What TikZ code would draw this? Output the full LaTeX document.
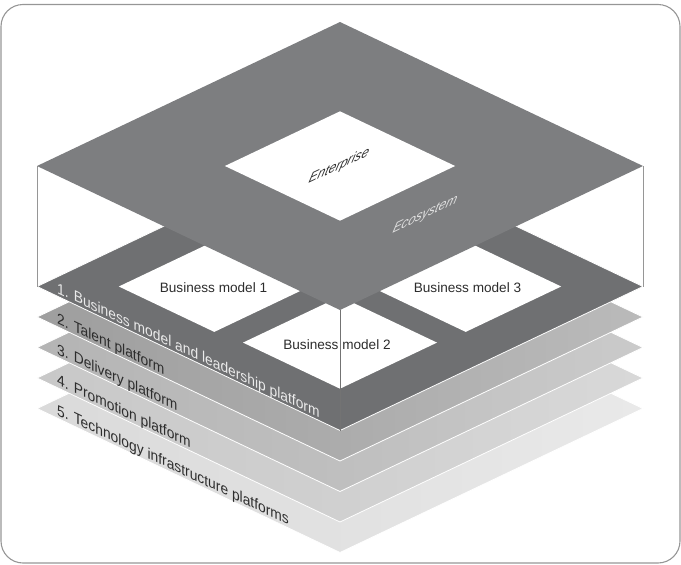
\documentclass[tikz,border=0pt]{standalone}
\usepackage{fontspec}
\setmainfont{Liberation Sans}
\usepackage{tikz}
\usetikzlibrary{positioning}
\definecolor{topgray}{RGB}{125,126,128}
\definecolor{layone}{RGB}{111,112,114}
\definecolor{laytwoL}{RGB}{158,158,158}
\definecolor{laytwoR}{RGB}{186,186,186}
\definecolor{laythreeL}{RGB}{180,180,180}
\definecolor{laythreeR}{RGB}{202,202,202}
\definecolor{layfourL}{RGB}{200,200,200}
\definecolor{layfourR}{RGB}{216,216,216}
\definecolor{layfiveL}{RGB}{218,218,218}
\definecolor{layfiveR}{RGB}{233,233,233}
\definecolor{framegray}{RGB}{150,150,150}
\definecolor{inkgray}{RGB}{45,45,45}
\tikzset{
  slab/.style={draw=white, line width=0.8pt},
  bmbox/.style={fill=white},
  bmlabel/.style={font=\fontsize{13.6}{15}\selectfont, text=inkgray, inner sep=0pt},
  laylabel/.style={font=\fontsize{15.3}{17}\selectfont, text=inkgray, inner sep=0pt,
    anchor=base west, cm={0.9032,-0.4292,0,1,(0,0)}},
  toplabel/.style={font=\fontsize{14.5}{16}\selectfont\itshape, inner sep=0pt,
    cm={0.9032,0.4292,0.28,1,(0,0)}}
}

\begin{document}
\begin{tikzpicture}[x=1pt, y=-1pt]
  \useasboundingbox (0,0) rectangle (681,565);
  \draw[framegray, line width=1.1pt, rounded corners=22pt] (1,4.5) rectangle (680,563);

  % platform layers, bottom up
  \path[slab, left color=layfiveL, right color=layfiveR]
    (37,408.5) -- (340,264.5) -- (643,408.5) -- (340,552.5) -- cycle;
  \path[slab, left color=layfourL, right color=layfourR]
    (37,378) -- (340,234) -- (643,378) -- (340,522) -- cycle;
  \path[slab, left color=laythreeL, right color=laythreeR]
    (37,347.5) -- (340,203.5) -- (643,347.5) -- (340,491.5) -- cycle;
  \path[slab, left color=laytwoL, right color=laytwoR]
    (37,317) -- (340,173) -- (643,317) -- (340,461) -- cycle;
  \path[slab, fill=layone]
    (37,286.5) -- (340,142.5) -- (643,286.5) -- (340,430.5) -- cycle;

  \node[laylabel] (laytwo)   at (57,323.5) {2. Talent platform};
  \node[laylabel] (laythree) at (57,354)   {3. Delivery platform};
  \node[laylabel] (layfour)  at (57,384.5) {4. Promotion platform};
  \node[laylabel] (layfive)  at (57,415)   {5. Technology infrastructure platforms};
  \node[laylabel, text=white!92!black] (layone) at (57,293)
    {1. Business model and leadership platform};

  % business models on layer 1
  \fill[bmbox] (214.3,241.1) -- (309.7,286.5) -- (214.3,331.9) -- (118.8,286.5) -- cycle;
  \fill[bmbox] (340,296.6) -- (437,342.6) -- (340,388.7) -- (243,342.6) -- cycle;
  \fill[bmbox] (465.7,241.1) -- (561.2,286.5) -- (465.7,331.9) -- (370.3,286.5) -- cycle;
  \node[bmlabel] (bmone)   at (213.5,288)   {Business model 1};
  \node[bmlabel] (bmtwo)   at (337,344.5)   {Business model 2};
  \node[bmlabel] (bmthree) at (467.5,288)   {Business model 3};

  % box edges
  \draw[framegray, line width=0.8pt] (37,166) -- (37,286.5);
  \draw[framegray, line width=0.8pt] (643,166) -- (643,286.5);

  % ecosystem plane
  \fill[topgray] (37,166) -- (340,22) -- (643,166) -- (340,310) -- cycle;
  \fill[white] (340,111.3) -- (455.1,166) -- (340,220.7) -- (224.9,166) -- cycle;
  \node[toplabel, text=inkgray] (enterprise) at (339,166) {Enterprise};
  \node[toplabel, text=white!88!black] (ecosystem) at (425,215) {Ecosystem};

  \draw[black!55, line width=0.8pt] (340,310) -- (340,430.5);
\end{tikzpicture}
\end{document}
